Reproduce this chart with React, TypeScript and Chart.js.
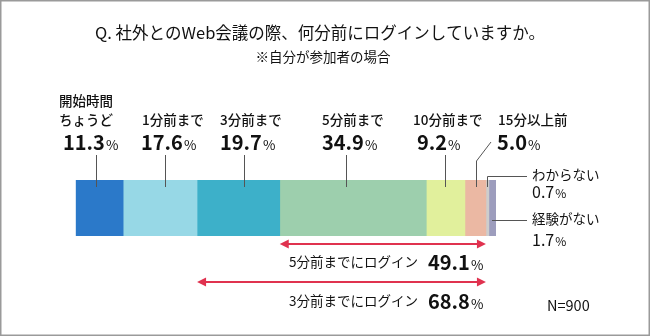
import React, { useEffect, useRef } from "react";
import { Chart, registerables } from "chart.js";

Chart.register(...registerables);

const TITLE = "Q. 社外とのWeb会議の際、何分前にログインしていますか。";
const SUBTITLE = "※自分が参加者の場合";
const categories = ["開始時間ちょうど", "1分前まで", "3分前まで", "5分前まで", "10分前まで", "15分以上前", "わからない", "経験がない"];
const values = [11.3, 17.6, 19.7, 34.9, 9.2, 5.0, 0.7, 1.7];
const colors = ["#2b79c9", "#97d8e6", "#3db0c9", "#9dcfad", "#e1f09c", "#ebb8a3", "#cdcdcd", "#9d9dbd"];
const summaryLabels = ["5分前までにログイン", "3分前までにログイン"];
const summaryValues = [49.1, 68.8];
const summaryFrom = [3, 2];
const summaryTo = 5;
const NOTE = "N=900";

const FONT = '"Noto Sans CJK JP", "Noto Sans", sans-serif';

// layout (pixel positions for text, leader offsets from segment centres)
const topLabelX = [59, 142, 220, 322, 413, 498];
const topValueX = [63, 141, 220, 322, 417, 497];
const leaderOffset = [-3, 5, 6, -7, -1, 1];

function drawValue(ctx: CanvasRenderingContext2D, num: string, x: number, y: number, size: number, bold: boolean, pctSize: number) {
  ctx.textAlign = "left";
  ctx.textBaseline = "alphabetic";
  ctx.font = `${bold ? "bold " : ""}${size}px ${FONT}`;
  ctx.fillText(num, x, y);
  const w = ctx.measureText(num).width;
  ctx.font = `${pctSize}px ${FONT}`;
  ctx.fillText("%", x + w + 1, y);
}

function arrow(ctx: CanvasRenderingContext2D, x1: number, x2: number, y: number) {
  ctx.strokeStyle = "#e0324f";
  ctx.fillStyle = "#e0324f";
  ctx.lineWidth = 2;
  ctx.beginPath();
  ctx.moveTo(x1 + 4, y);
  ctx.lineTo(x2 - 4, y);
  ctx.stroke();
  ctx.beginPath();
  ctx.moveTo(x1, y);
  ctx.lineTo(x1 + 9, y - 4.5);
  ctx.lineTo(x1 + 9, y + 4.5);
  ctx.closePath();
  ctx.fill();
  ctx.beginPath();
  ctx.moveTo(x2, y);
  ctx.lineTo(x2 - 9, y - 4.5);
  ctx.lineTo(x2 - 9, y + 4.5);
  ctx.closePath();
  ctx.fill();
}

const annotPlugin = {
  id: "annot",
  afterDraw(chart: any) {
    const ctx: CanvasRenderingContext2D = chart.ctx;
    const xs = chart.scales.x;
    const area = chart.chartArea;
    const cum: number[] = [0];
    values.forEach((v, i) => cum.push(cum[i] + v));
    const px = (v: number) => xs.getPixelForValue(v);
    ctx.save();
    // frame
    ctx.strokeStyle = "#9a9a9a";
    ctx.lineWidth = 1.5;
    ctx.strokeRect(0.75, 0.75, 648.5, 334.5);

    ctx.fillStyle = "#111";
    ctx.textAlign = "center";
    ctx.textBaseline = "middle";
    ctx.font = `16.5px ${FONT}`;
    ctx.fillText(TITLE, 320, 33);
    ctx.font = `13.5px ${FONT}`;
    ctx.fillText(SUBTITLE, 323, 57);

    // top labels
    for (let i = 0; i < 6; i++) {
      ctx.fillStyle = "#111";
      ctx.textBaseline = "middle";
      ctx.textAlign = "left";
      ctx.font = `500 13.5px ${FONT}`;
      if (i === 0) {
        ctx.fillText(categories[0].slice(0, 4), topLabelX[0], 101);
        ctx.fillText(categories[0].slice(4), topLabelX[0], 120);
      } else {
        ctx.fillText(categories[i], topLabelX[i], 120);
      }
      drawValue(ctx, values[i].toFixed(1), topValueX[i], 150, 20, true, 13.5);
    }

    // leaders
    ctx.strokeStyle = "#555";
    ctx.lineWidth = 1;
    for (let i = 0; i < 5; i++) {
      const cx = Math.round(px((cum[i] + cum[i + 1]) / 2) + leaderOffset[i]) + 0.5;
      ctx.beginPath();
      ctx.moveTo(cx, 155);
      ctx.lineTo(cx, area.top + 7);
      ctx.stroke();
    }
    {
      const cx = Math.round(px((cum[5] + cum[6]) / 2) + leaderOffset[5]) + 0.5;
      ctx.beginPath();
      ctx.moveTo(cx, area.top + 7);
      ctx.lineTo(cx, 161);
      ctx.lineTo(491, 142);
      ctx.stroke();
    }
    {
      const cx = Math.round(px((cum[6] + cum[7]) / 2)) + 0.5;
      ctx.beginPath();
      ctx.moveTo(cx, area.top + 7);
      ctx.lineTo(cx, 176.5);
      ctx.lineTo(527, 176.5);
      ctx.stroke();
      const cx2 = Math.round(px((cum[7] + cum[8]) / 2));
      ctx.beginPath();
      ctx.moveTo(cx2, 220.5);
      ctx.lineTo(527, 220.5);
      ctx.stroke();
    }
    ctx.fillStyle = "#111";
    ctx.textAlign = "left";
    ctx.textBaseline = "middle";
    ctx.font = `13.5px ${FONT}`;
    ctx.fillText(categories[6], 532, 175);
    ctx.fillText(categories[7], 532, 219);
    drawValue(ctx, values[6].toFixed(1), 532, 198, 16, false, 12);
    drawValue(ctx, values[7].toFixed(1), 532, 246, 16, false, 12);

    // summary arrows
    const arrowY = [244, 282];
    const textY = [262, 301];
    for (let k = 0; k < 2; k++) {
      const x1 = px(cum[summaryFrom[k]]);
      const x2 = px(cum[summaryTo + 1]);
      arrow(ctx, x1, x2, arrowY[k]);
      ctx.fillStyle = "#111";
      ctx.textAlign = "right";
      ctx.textBaseline = "middle";
      ctx.font = `13.5px ${FONT}`;
      ctx.fillText(summaryLabels[k], 418, textY[k]);
      drawValue(ctx, summaryValues[k].toFixed(1), 428, textY[k] + 7.5, 20, true, 13.5);
    }
    ctx.fillStyle = "#111";
    ctx.textAlign = "left";
    ctx.textBaseline = "middle";
    ctx.font = `14.5px ${FONT}`;
    ctx.fillText(NOTE, 547, 305);
    ctx.restore();
  },
};

export default function App() {
  const ref = useRef<HTMLCanvasElement>(null);
  useEffect(() => {
    const total = values.reduce((a, b) => a + b, 0);
    const chart = new Chart(ref.current!, {
      type: "bar",
      data: {
        labels: [""],
        datasets: categories.map((c, i) => ({
          label: c,
          data: [values[i]],
          backgroundColor: colors[i],
          borderWidth: 0,
          barPercentage: 1,
          categoryPercentage: 1,
        })),
      },
      options: {
        indexAxis: "y",
        responsive: false,
        animation: false,
        devicePixelRatio: 1,
        layout: { padding: { left: 75.7, right: 154, top: 180, bottom: 100 } },
        scales: {
          x: { stacked: true, display: false, min: 0, max: total },
          y: { stacked: true, display: false },
        },
        plugins: { legend: { display: false }, tooltip: { enabled: false }, title: { display: false } },
      },
      plugins: [annotPlugin],
    } as any);
    return () => chart.destroy();
  }, []);
  return (
    <div style={{ position: "fixed", left: 0, top: 0, width: 650, height: 336, background: "#fff" }}>
      <canvas ref={ref} width={650} height={336} style={{ width: 650, height: 336 }} />
    </div>
  );
}
